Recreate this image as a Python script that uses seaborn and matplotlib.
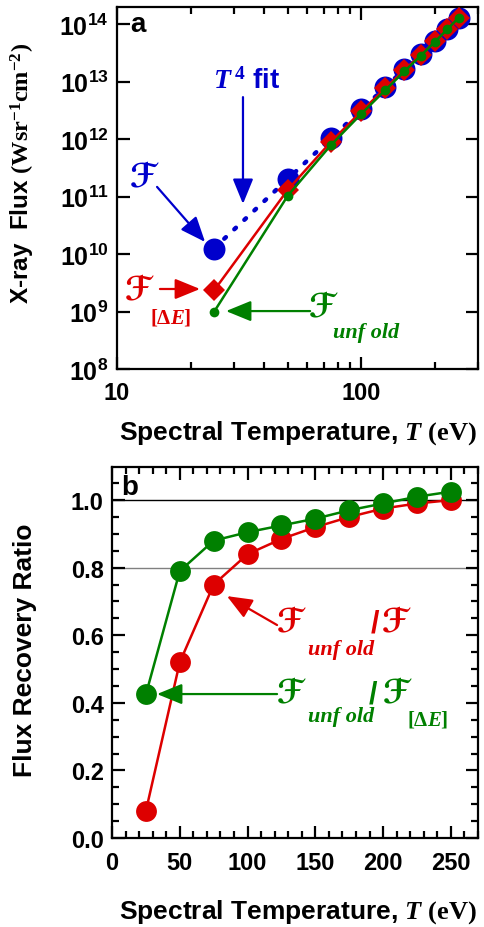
import numpy as np
import pandas as pd
import seaborn as sns
import matplotlib
matplotlib.use("Agg")
import matplotlib.pyplot as plt
from matplotlib.ticker import FixedLocator, MultipleLocator, FuncFormatter, NullLocator, NullFormatter

# ---- data -----------------------------------------------------------------
temperature = [25, 50, 75, 100, 125, 150, 175, 200, 225, 250]          # eV
flux_total = [1.25e10, 2.0e11, 1.05e12, 3.3e12, 8.0e12,
              1.65e13, 3.0e13, 5.1e13, 8.3e13, 1.3e14]                 # W sr^-1 cm^-2
ratio_unfold_total = [0.08, 0.52, 0.75, 0.84, 0.885,
                      0.92, 0.95, 0.975, 0.99, 1.0]                    # F_unfold / F
ratio_unfold_window = [0.425, 0.79, 0.88, 0.905, 0.925,
                       0.945, 0.97, 0.99, 1.01, 1.025]                 # F_unfold / F[dE]

x_decade_ticks = [10, 100]
y_decade_ticks = [1e8, 1e9, 1e10, 1e11, 1e12, 1e13, 1e14]

# derived fluxes
T = np.array(temperature, dtype=float)
F = np.array(flux_total)
F_unfold = F * np.array(ratio_unfold_total)
F_window = F_unfold / np.array(ratio_unfold_window)
# T^4 fit of the total flux (fixed exponent, least squares in log space)
log_c = np.mean(np.log(F) - 4.0 * np.log(T))
F_fit = np.exp(log_c) * T ** 4

df_a = pd.DataFrame({"T": T, "F": F, "F_unfold": F_unfold,
                     "F_window": F_window, "F_fit": F_fit})
df_b = pd.DataFrame({"T": T, "r_total": ratio_unfold_total,
                     "r_window": ratio_unfold_window})

BLUE = "#0000cc"
RED = "#dd0000"
GREEN = "#008000"

# ---- style ----------------------------------------------------------------
sns.set_style("ticks")
plt.rcParams["font.family"] = ["Liberation Sans", "DejaVu Sans"]
plt.rcParams["font.weight"] = "bold"
plt.rcParams["axes.labelweight"] = "bold"
plt.rcParams["mathtext.fontset"] = "custom"
plt.rcParams["mathtext.rm"] = "Liberation Serif:bold"
plt.rcParams["mathtext.it"] = "Liberation Serif:italic:bold"
plt.rcParams["mathtext.bf"] = "Liberation Serif:bold"
plt.rcParams["mathtext.sf"] = "Liberation Sans:bold"
plt.rcParams["axes.linewidth"] = 1.6
plt.rcParams["xtick.direction"] = "in"
plt.rcParams["ytick.direction"] = "in"
for key in ("text.color", "axes.labelcolor", "axes.edgecolor",
            "xtick.color", "ytick.color"):
    plt.rcParams[key] = "black"

TICK_FS = 17
LABEL_FS = 19
SCRIPT = ["STIXGeneral", "DejaVu Sans"]
SERIF = ["Liberation Serif", "DejaVu Serif"]

fig = plt.figure(figsize=(4.84, 9.28), dpi=100)
ax_a = fig.add_axes([0.2417, 0.6013, 0.7459, 0.3901])
ax_b = fig.add_axes([0.2314, 0.0959, 0.7562, 0.3998])


def style_ticks(ax):
    ax.tick_params(which="both", top=True, right=True, labelsize=TICK_FS,
                   width=1.6, color="black", labelcolor="black")
    ax.tick_params(which="major", length=9)
    ax.tick_params(which="minor", length=5)
    ax.tick_params(axis="x", which="major", pad=9)
    ax.tick_params(axis="y", which="major", pad=6)
    for lab in ax.get_xticklabels() + ax.get_yticklabels():
        lab.set_fontweight("bold")


def arrow(ax, tail, tip, color):
    ax.annotate("", xy=tip, xytext=tail, xycoords="axes fraction",
                textcoords="axes fraction",
                arrowprops=dict(arrowstyle="-|>,head_length=1.1,head_width=0.45",
                                mutation_scale=14, color=color, lw=1.6,
                                shrinkA=0, shrinkB=0))


# ---- panel a: flux vs temperature --------------------------------------
ax = ax_a
ax.set_xscale("log")
ax.set_yscale("log")
sns.lineplot(data=df_a, x="T", y="F_fit", ax=ax, color=BLUE, lw=3.2,
             linestyle=(0, (0.5, 2.6)), dash_capstyle="round", zorder=1)
sns.scatterplot(data=df_a, x="T", y="F", ax=ax, color=BLUE, s=250,
                linewidth=0, zorder=2)
sns.lineplot(data=df_a, x="T", y="F_window", ax=ax, color=RED, lw=1.8,
             marker="D", markersize=11, markeredgewidth=0, zorder=3)
sns.lineplot(data=df_a, x="T", y="F_unfold", ax=ax, color=GREEN, lw=1.8,
             marker="o", markersize=7, markeredgewidth=0, zorder=4)

ax.set_xlim(10, 300)
ax.set_ylim(1e8, 2e14)
ax.xaxis.set_major_locator(FixedLocator(x_decade_ticks))
ax.xaxis.set_major_formatter(FuncFormatter(lambda v, p: f"{v:g}"))
ax.xaxis.set_minor_locator(FixedLocator([20, 30, 40, 50, 60, 70, 80, 90, 200, 300]))
ax.xaxis.set_minor_formatter(NullFormatter())
ax.yaxis.set_major_locator(FixedLocator(y_decade_ticks))
ax.yaxis.set_major_formatter(FuncFormatter(
    lambda v, p: r"$\mathsf{10^{%d}}$" % round(np.log10(v))))
ax.yaxis.set_minor_locator(NullLocator())
style_ticks(ax)
ax.tick_params(axis="y", labelsize=18)

ax.set_xlabel(r"Spectral Temperature, $\mathit{T}\ \mathbf{(eV)}$",
              fontsize=LABEL_FS, fontweight="bold")
ax.set_ylabel(r"X-ray  Flux $\mathbf{(Wsr^{-1}cm^{-2})}$",
              fontsize=17.5, fontweight="bold")
ax.xaxis.set_label_coords(0.50, -0.135)
ax.yaxis.set_label_coords(-0.222, 0.544)

ax.text(0.058, 0.953, "a", transform=ax.transAxes, fontsize=20,
        fontweight="bold", ha="center", va="center")

# T^4 fit label and arrow
ax.text(0.360, 0.796, r"$\mathit{T}^{\,4}$ fit", transform=ax.transAxes,
        fontsize=20, fontweight="bold", color=BLUE, ha="center", va="center")
arrow(ax, (0.349, 0.751), (0.349, 0.456), BLUE)

# total flux
ax.text(0.072, 0.525, "ℱ", transform=ax.transAxes, family=SCRIPT,
        fontsize=24, color=BLUE, ha="center", va="center")
arrow(ax, (0.111, 0.503), (0.244, 0.351), BLUE)

# flux in energy window
ax.text(0.058, 0.215, "ℱ", transform=ax.transAxes, family=SCRIPT,
        fontsize=24, color=RED, ha="center", va="center")
ax.text(0.150, 0.146, r"$\mathrm{[\Delta}\mathit{E}\mathrm{]}$",
        transform=ax.transAxes, fontsize=15, color=RED, ha="center", va="center")
arrow(ax, (0.119, 0.221), (0.230, 0.221), RED)

# unfolded flux
ax.text(0.568, 0.166, "ℱ", transform=ax.transAxes, family=SCRIPT,
        fontsize=24, color=GREEN, ha="center", va="center")
ax.text(0.690, 0.102, "unf old", transform=ax.transAxes, family=SERIF,
        fontsize=16, fontweight="bold", fontstyle="italic", color=GREEN,
        ha="center", va="center")
arrow(ax, (0.535, 0.160), (0.302, 0.160), GREEN)

# ---- panel b: flux recovery ratio --------------------------------------
ax = ax_b
ax.axhline(1.0, color="black", lw=1.0, zorder=0)
ax.axhline(0.8, color="#808080", lw=1.0, zorder=0)
sns.lineplot(data=df_b, x="T", y="r_total", ax=ax, color=RED, lw=1.8,
             marker="o", markersize=15, markeredgewidth=0, zorder=3)
sns.lineplot(data=df_b, x="T", y="r_window", ax=ax, color=GREEN, lw=1.8,
             marker="o", markersize=15, markeredgewidth=0, zorder=4)

ax.set_xlim(0, 270)
ax.set_ylim(0, 1.098)
ax.xaxis.set_major_locator(MultipleLocator(50))
ax.xaxis.set_minor_locator(MultipleLocator(10))
ax.yaxis.set_major_locator(MultipleLocator(0.2))
ax.yaxis.set_minor_locator(MultipleLocator(0.05))
ax.yaxis.set_major_formatter(FuncFormatter(lambda v, p: f"{v:.1f}"))
style_ticks(ax)

ax.set_xlabel(r"Spectral Temperature, $\mathit{T}\ \mathbf{(eV)}$",
              fontsize=LABEL_FS, fontweight="bold")
ax.set_ylabel("Flux Recovery Ratio", fontsize=LABEL_FS, fontweight="bold")
ax.xaxis.set_label_coords(0.508, -0.160)
ax.yaxis.set_label_coords(-0.205, 0.51)

ax.text(0.049, 0.946, "b", transform=ax.transAxes, fontsize=20,
        fontweight="bold", ha="center", va="center")

# unfolded / total
ax.text(0.486, 0.577, "ℱ", transform=ax.transAxes, family=SCRIPT,
        fontsize=24, color=RED, ha="center", va="center")
ax.text(0.626, 0.509, "unf old", transform=ax.transAxes, family=SERIF,
        fontsize=16, fontweight="bold", fontstyle="italic", color=RED,
        ha="center", va="center")
ax.text(0.719, 0.577, "/", transform=ax.transAxes, fontsize=22,
        fontweight="bold", color=RED, ha="center", va="center")
ax.text(0.773, 0.577, "ℱ", transform=ax.transAxes, family=SCRIPT,
        fontsize=24, color=RED, ha="center", va="center")
arrow(ax, (0.451, 0.574), (0.314, 0.652), RED)

# unfolded / window
ax.text(0.486, 0.388, "ℱ", transform=ax.transAxes, family=SCRIPT,
        fontsize=24, color=GREEN, ha="center", va="center")
ax.text(0.626, 0.329, "unf old", transform=ax.transAxes, family=SERIF,
        fontsize=16, fontweight="bold", fontstyle="italic", color=GREEN,
        ha="center", va="center")
ax.text(0.713, 0.388, "/", transform=ax.transAxes, fontsize=22,
        fontweight="bold", color=GREEN, ha="center", va="center")
ax.text(0.776, 0.388, "ℱ", transform=ax.transAxes, family=SCRIPT,
        fontsize=24, color=GREEN, ha="center", va="center")
ax.text(0.863, 0.321, r"$\mathrm{[\Delta}\mathit{E}\mathrm{]}$",
        transform=ax.transAxes, fontsize=15, color=GREEN, ha="center", va="center")
arrow(ax, (0.451, 0.388), (0.123, 0.388), GREEN)

for a in (ax_a, ax_b):
    for s in a.spines.values():
        s.set_linewidth(1.6)
        s.set_color("black")

fig.savefig("out.png", dpi=100)
